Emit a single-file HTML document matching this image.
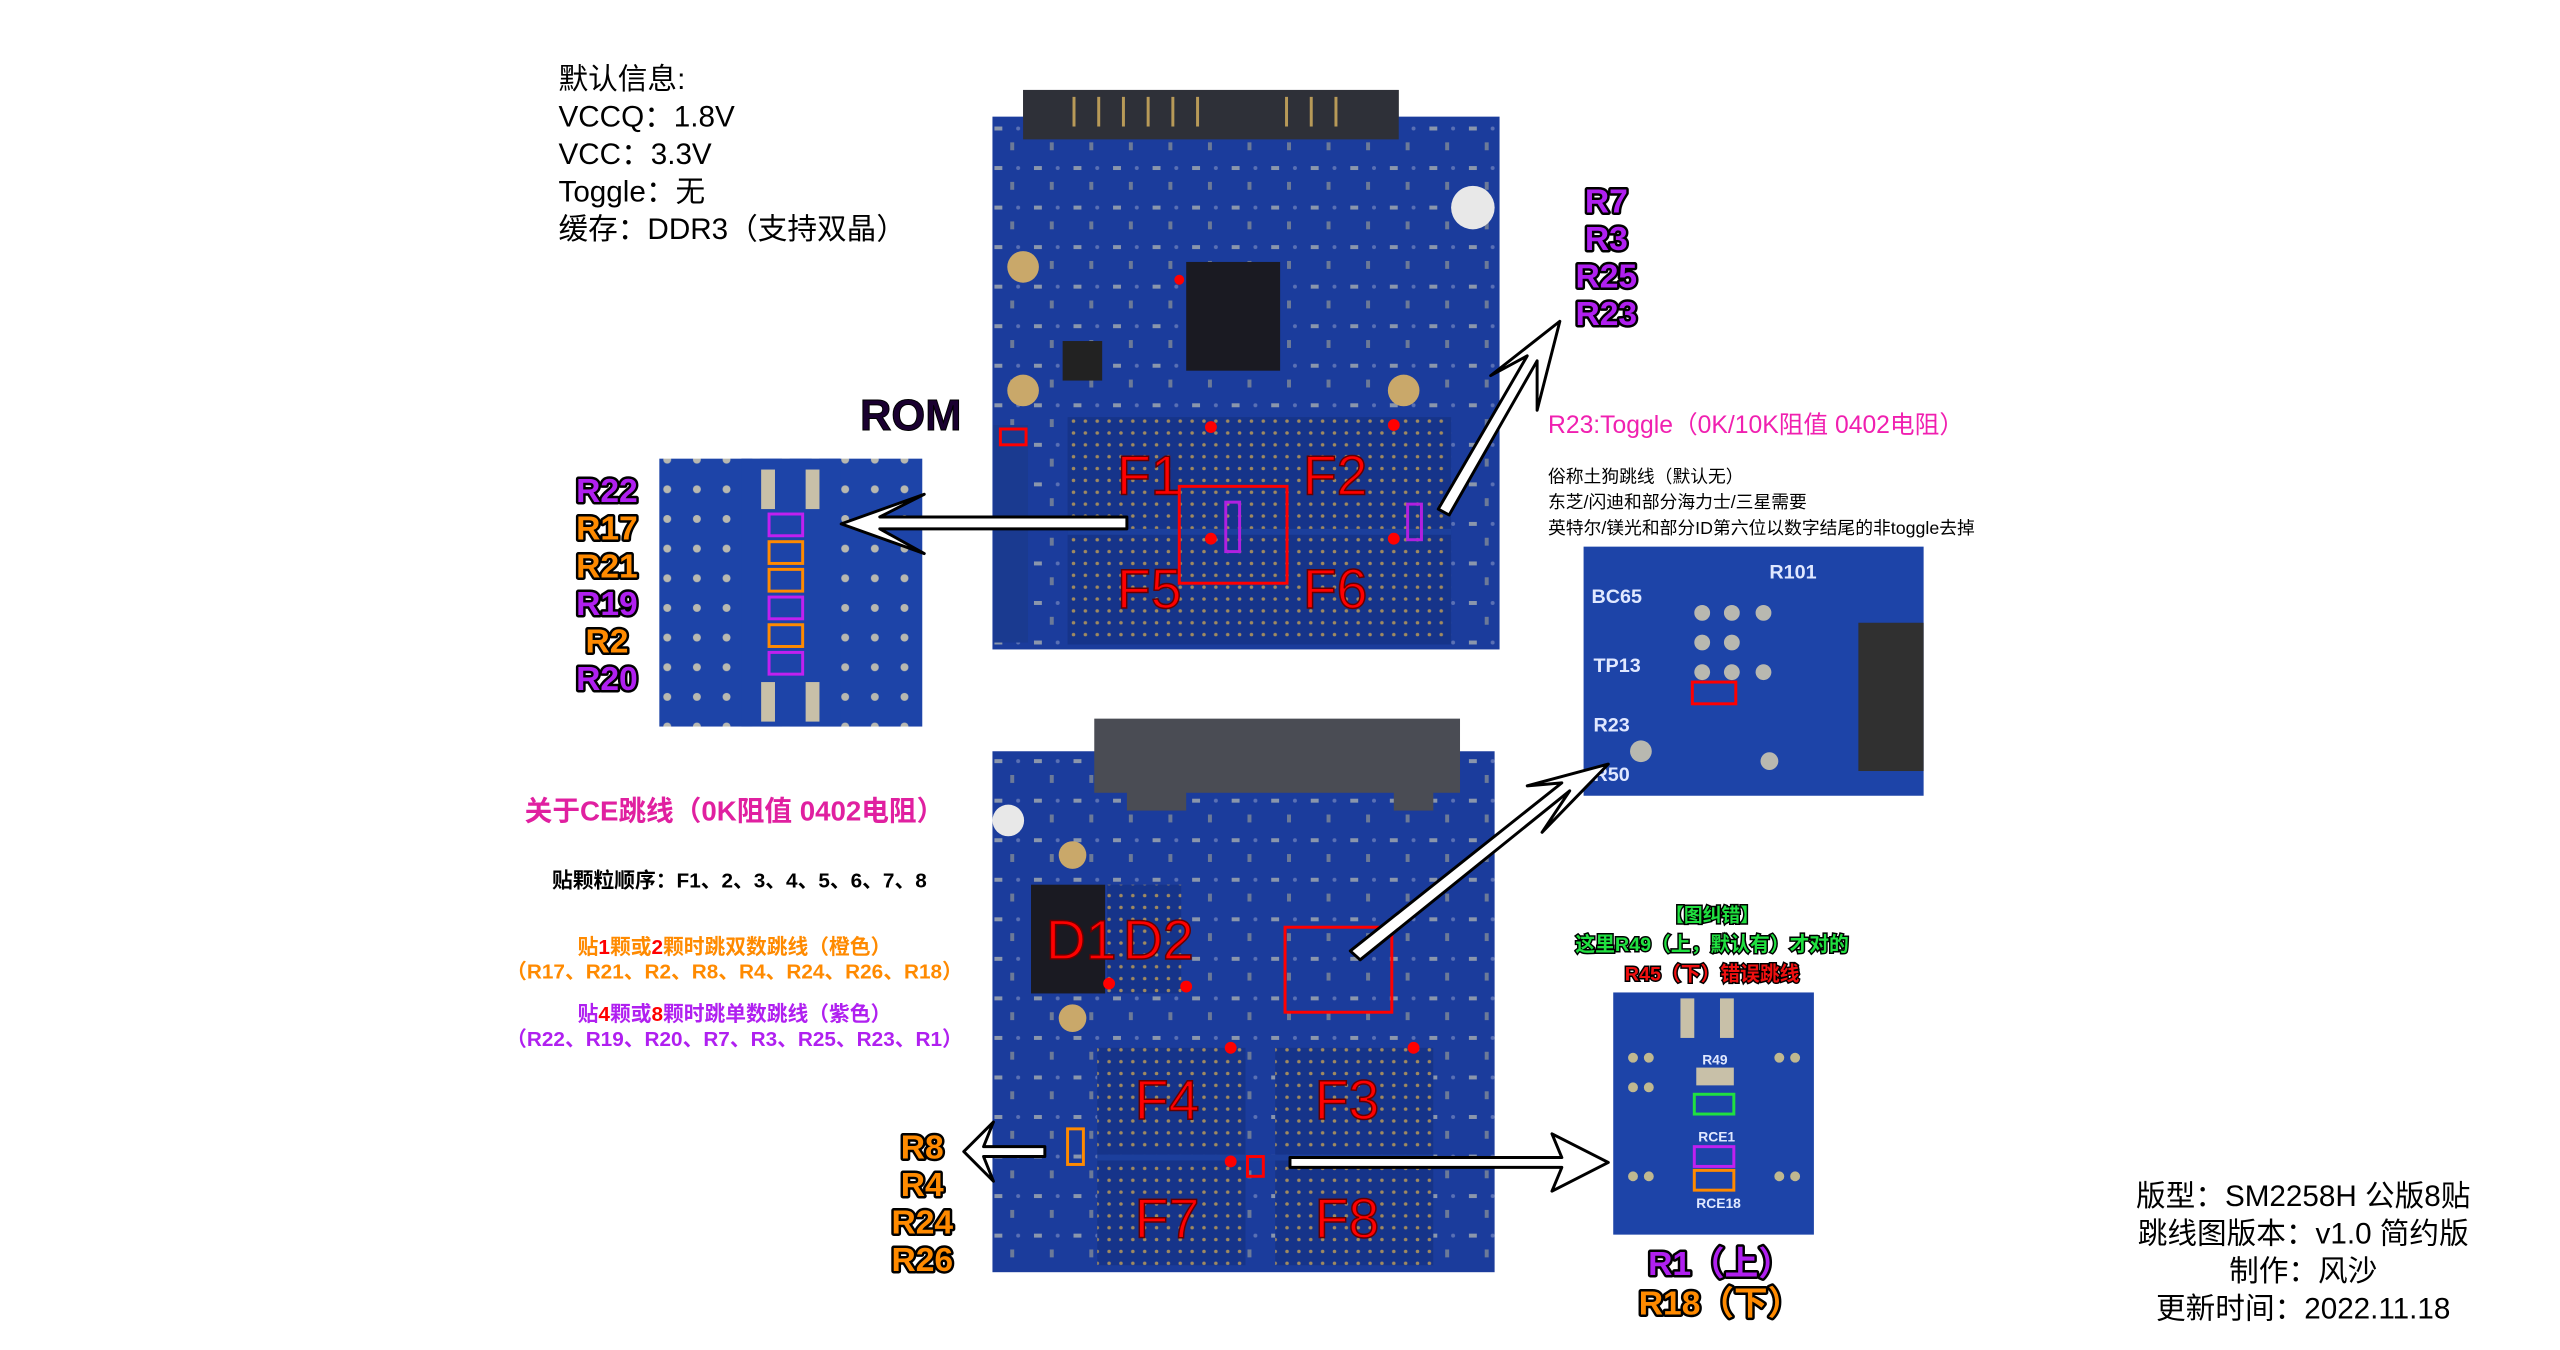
<!DOCTYPE html>
<html><head><meta charset="utf-8"><style>
html,body{margin:0;padding:0;background:#fff;}
svg{display:block;}
text{font-family:"Liberation Sans","Noto Sans CJK SC",sans-serif;}
.rl{font-weight:bold;font-size:34px;stroke:#000;stroke-width:5px;paint-order:stroke;stroke-linejoin:round;}
.fl{fill:#f00;font-size:56px;stroke:#600;stroke-width:1.5px;}
</style></head><body>
<svg width="2560" height="1350" viewBox="0 0 2560 1350" xmlns="http://www.w3.org/2000/svg">
<defs>
<pattern id="dots" width="12" height="12" patternUnits="userSpaceOnUse"><rect width="12" height="12" fill="#16348a"/><circle cx="6" cy="6" r="1.8" fill="#a08a60"/></pattern>
<pattern id="pcb" width="40" height="40" patternUnits="userSpaceOnUse"><rect width="40" height="40" fill="#1b3c9c"/><rect x="6" y="8" width="8" height="4" fill="#8a96ac"/><rect x="22" y="24" width="4" height="8" fill="#6c7a98"/><circle cx="30" cy="10" r="2" fill="#5a70b4"/></pattern>
<pattern id="ins" width="30" height="30" patternUnits="userSpaceOnUse"><rect width="30" height="30" fill="#1d44a8"/><circle cx="15" cy="15" r="4" fill="#b8b8b0"/></pattern>
</defs>
<g transform="scale(0.9885)">
<g font-size="30" fill="#000">
<text x="565" y="90">默认信息:</text>
<text x="565" y="128">VCCQ：1.8V</text>
<text x="565" y="166">VCC：3.3V</text>
<text x="565" y="204">Toggle：无</text>
<text x="565" y="242">缓存：DDR3（支持双晶）</text>
</g>

<rect x="1035" y="91" width="380" height="80" fill="#3a3c44"/>
<rect x="1004" y="118" width="513" height="539" fill="url(#pcb)"/>
<rect x="1035" y="91" width="380" height="50" fill="#2e3038"/>
<g fill="#b89a58"><rect x="1085" y="98" width="3" height="30"/><rect x="1110" y="98" width="3" height="30"/><rect x="1135" y="98" width="3" height="30"/><rect x="1160" y="98" width="3" height="30"/><rect x="1185" y="98" width="3" height="30"/><rect x="1210" y="98" width="3" height="30"/><rect x="1300" y="98" width="3" height="30"/><rect x="1325" y="98" width="3" height="30"/><rect x="1350" y="98" width="3" height="30"/></g>
<rect x="1200" y="265" width="95" height="110" fill="#1a1a22"/>
<rect x="1075" y="345" width="40" height="40" fill="#222"/>
<circle cx="1035" cy="270" r="16" fill="#c9a86a"/><circle cx="1035" cy="395" r="16" fill="#c9a86a"/>
<circle cx="1420" cy="395" r="16" fill="#c9a86a"/><circle cx="1490" cy="210" r="22" fill="#e8e8e8"/>
<rect x="1080" y="422" width="190" height="230" fill="url(#dots)"/>
<rect x="1268" y="422" width="200" height="230" fill="url(#dots)"/>
<rect x="1080" y="535" width="388" height="6" fill="#1c3f9c"/>
<rect x="1005" y="430" width="35" height="220" fill="#1a3a90"/>
<rect x="1012" y="434" width="26" height="16" fill="none" stroke="#f00" stroke-width="3"/>
<text class="fl" x="1130" y="500">F1</text><text class="fl" x="1318" y="500">F2</text>
<text class="fl" x="1130" y="615">F5</text><text class="fl" x="1318" y="615">F6</text>
<rect x="1193" y="492" width="109" height="98" fill="none" stroke="#f00" stroke-width="3"/>
<rect x="1240" y="508" width="14" height="50" fill="none" stroke="#b020e0" stroke-width="3"/>
<rect x="1424" y="510" width="14" height="36" fill="none" stroke="#b020e0" stroke-width="3"/>
<g fill="#f00"><circle cx="1225" cy="432" r="6"/><circle cx="1410" cy="430" r="6"/><circle cx="1225" cy="545" r="6"/><circle cx="1410" cy="545" r="6"/><circle cx="1193" cy="283" r="5"/></g>
<text x="870" y="435" font-size="44" font-weight="bold" fill="#1a0030" stroke="#000" stroke-width="1">ROM</text>

<rect x="667" y="464" width="266" height="271" fill="url(#ins)"/>
<rect x="750" y="464" width="100" height="271" fill="#1d44a8"/>
<rect x="770" y="475" width="14" height="40" fill="#c8c0a8"/><rect x="815" y="475" width="14" height="40" fill="#c8c0a8"/>
<rect x="770" y="690" width="14" height="40" fill="#c8c0a8"/><rect x="815" y="690" width="14" height="40" fill="#c8c0a8"/>
<g fill="none" stroke-width="3">
<rect x="778" y="520" width="34" height="22" stroke="#c020f0"/>
<rect x="778" y="548" width="34" height="22" stroke="#ff8a00"/>
<rect x="778" y="576" width="34" height="22" stroke="#ff8a00"/>
<rect x="778" y="604" width="34" height="22" stroke="#c020f0"/>
<rect x="778" y="632" width="34" height="22" stroke="#ff8a00"/>
<rect x="778" y="660" width="34" height="22" stroke="#c020f0"/>
</g>
<g class="rl" text-anchor="middle">
<text x="614" y="508" fill="#b020f0">R22</text>
<text x="614" y="546" fill="#ff8a00">R17</text>
<text x="614" y="584" fill="#ff8a00">R21</text>
<text x="614" y="622" fill="#b020f0">R19</text>
<text x="614" y="660" fill="#ff8a00">R2</text>
<text x="614" y="698" fill="#b020f0">R20</text>
</g>
<g class="rl" text-anchor="middle">
<text x="1625" y="215" fill="#b020f0">R7</text>
<text x="1625" y="253" fill="#b020f0">R3</text>
<text x="1625" y="291" fill="#b020f0">R25</text>
<text x="1625" y="329" fill="#b020f0">R23</text>
</g>

<text x="1566" y="438" font-size="25" fill="#f020b0">R23:Toggle（0K/10K阻值 0402电阻）</text>
<g font-size="18" fill="#000">
<text x="1566" y="488">俗称土狗跳线（默认无）</text>
<text x="1566" y="514">东芝/闪迪和部分海力士/三星需要</text>
<text x="1566" y="540">英特尔/镁光和部分ID第六位以数字结尾的非toggle去掉</text>
</g>
<rect x="1602" y="553" width="344" height="252" fill="#1d44a8"/>
<g fill="#b8b8b0"><circle cx="1722" cy="620" r="8"/><circle cx="1752" cy="620" r="8"/><circle cx="1722" cy="650" r="8"/><circle cx="1752" cy="650" r="8"/><circle cx="1722" cy="680" r="8"/><circle cx="1752" cy="680" r="8"/><circle cx="1784" cy="620" r="8"/><circle cx="1784" cy="680" r="8"/><circle cx="1660" cy="760" r="11"/><circle cx="1790" cy="770" r="9"/></g>
<rect x="1880" y="630" width="66" height="150" fill="#303030"/>
<rect x="1712" y="690" width="44" height="22" fill="none" stroke="#f00" stroke-width="3"/>
<g fill="#e0e8ff" font-size="20" font-weight="bold"><text x="1610" y="610">BC65</text><text x="1612" y="680">TP13</text><text x="1612" y="740">R23</text><text x="1612" y="790">R50</text><text x="1790" y="585">R101</text></g>

<rect x="1004" y="760" width="508" height="527" fill="url(#pcb)"/>
<rect x="1107" y="727" width="370" height="75" fill="#4a4c54"/>
<rect x="1140" y="790" width="60" height="30" fill="#4a4c54"/><rect x="1410" y="790" width="40" height="30" fill="#4a4c54"/>
<circle cx="1020" cy="830" r="16" fill="#e8e8e8"/><circle cx="1085" cy="865" r="14" fill="#c9a86a"/><circle cx="1085" cy="1030" r="14" fill="#c9a86a"/>
<rect x="1043" y="895" width="75" height="110" fill="#1a1a22"/>
<rect x="1120" y="895" width="75" height="110" fill="url(#dots)"/>
<text class="fl" x="1058" y="970">D1</text><text class="fl" x="1136" y="970">D2</text>
<rect x="1110" y="1060" width="150" height="220" fill="url(#dots)"/>
<rect x="1290" y="1060" width="160" height="220" fill="url(#dots)"/>
<rect x="1110" y="1168" width="340" height="6" fill="#1c3f9c"/>
<text class="fl" x="1148" y="1132">F4</text><text class="fl" x="1330" y="1132">F3</text>
<text class="fl" x="1148" y="1252">F7</text><text class="fl" x="1330" y="1252">F8</text>
<rect x="1300" y="938" width="108" height="86" fill="none" stroke="#f00" stroke-width="3"/>
<rect x="1080" y="1142" width="16" height="36" fill="none" stroke="#ff8a00" stroke-width="3"/>
<rect x="1262" y="1170" width="16" height="20" fill="none" stroke="#f00" stroke-width="3"/>
<g fill="#f00"><circle cx="1122" cy="995" r="6"/><circle cx="1200" cy="998" r="6"/><circle cx="1245" cy="1060" r="6"/><circle cx="1430" cy="1060" r="6"/><circle cx="1245" cy="1175" r="6"/></g>

<g font-weight="bold" text-anchor="middle">
<text x="743" y="830" font-size="28" fill="#e020a0">关于CE跳线（0K阻值 0402电阻）</text>
<text x="748" y="898" font-size="21" fill="#000">贴颗粒顺序：F1、2、3、4、5、6、7、8</text>
<text x="743" y="965" font-size="21" fill="#ff8a00">贴<tspan fill="#f00">1</tspan>颗或<tspan fill="#f00">2</tspan>颗时跳双数跳线（橙色）</text>
<text x="743" y="990" font-size="21" fill="#ff8a00">（R17、R21、R2、R8、R4、R24、R26、R18）</text>
<text x="743" y="1033" font-size="21" fill="#b020f0">贴<tspan fill="#f00">4</tspan>颗或<tspan fill="#f00">8</tspan>颗时跳单数跳线（紫色）</text>
<text x="743" y="1058" font-size="21" fill="#b020f0">（R22、R19、R20、R7、R3、R25、R23、R1）</text>
</g>
<g class="rl" text-anchor="middle" fill="#ff8a00">
<text x="933" y="1172">R8</text><text x="933" y="1210">R4</text><text x="933" y="1248">R24</text><text x="933" y="1286">R26</text>
</g>

<g font-weight="bold" text-anchor="middle" stroke="#000" stroke-width="3" paint-order="stroke">
<text x="1732" y="932" font-size="19" fill="#20e040">【图纠错】</text>
<text x="1732" y="962" font-size="20" fill="#20e040">这里R49（上，默认有）才对的</text>
<text x="1732" y="992" font-size="20" fill="#f01010">R45（下）错误跳线</text>
</g>
<rect x="1632" y="1004" width="203" height="245" fill="#1d44a8"/>
<rect x="1700" y="1010" width="14" height="40" fill="#c8c0a8"/><rect x="1740" y="1010" width="14" height="40" fill="#c8c0a8"/>
<g fill="#c0b890"><circle cx="1652" cy="1070" r="5"/><circle cx="1668" cy="1070" r="5"/><circle cx="1652" cy="1100" r="5"/><circle cx="1668" cy="1100" r="5"/><circle cx="1652" cy="1190" r="5"/><circle cx="1668" cy="1190" r="5"/><circle cx="1800" cy="1070" r="5"/><circle cx="1816" cy="1070" r="5"/><circle cx="1800" cy="1190" r="5"/><circle cx="1816" cy="1190" r="5"/></g>
<rect x="1716" y="1080" width="38" height="18" fill="#c8c0a8"/>
<rect x="1714" y="1107" width="40" height="20" fill="none" stroke="#20e040" stroke-width="3"/>
<rect x="1714" y="1160" width="40" height="20" fill="none" stroke="#c020f0" stroke-width="3"/>
<rect x="1714" y="1184" width="40" height="20" fill="none" stroke="#ff8a00" stroke-width="3"/>
<g fill="#e0e8ff" font-size="14" font-weight="bold"><text x="1722" y="1077">R49</text><text x="1718" y="1155">RCE1</text><text x="1716" y="1222">RCE18</text></g>
<g class="rl" text-anchor="middle" font-size="32">
<text x="1740" y="1290" fill="#b020f0">R1（上）</text>
<text x="1740" y="1330" fill="#ff8a00">R18（下）</text>
</g>

<g font-size="30" fill="#000" text-anchor="middle">
<text x="2330" y="1220">版型：SM2258H 公版8贴</text>
<text x="2330" y="1258">跳线图版本：v1.0 简约版</text>
<text x="2330" y="1296">制作：风沙</text>
<text x="2330" y="1334">更新时间：2022.11.18</text>
</g>

<g fill="#fff" stroke="#000" stroke-width="3" stroke-linejoin="round">
<polygon points="1140,523 1140,535 890,535 935,560 851,530 935,500 890,523"/>
<polygon points="1455,515 1466,521 1555,365 1555,415 1578,325 1508,380 1545,360"/>
<polygon points="1366,962 1376,971 1588,800 1560,842 1627,773 1545,795 1580,792"/>
<polygon points="1057,1160 1057,1170 995,1170 1005,1195 975,1165 1005,1135 995,1160"/>
<polygon points="1305,1171 1305,1181 1580,1181 1570,1205 1627,1176 1570,1147 1580,1171"/>
</g>
</g>
</svg>
</body></html>
